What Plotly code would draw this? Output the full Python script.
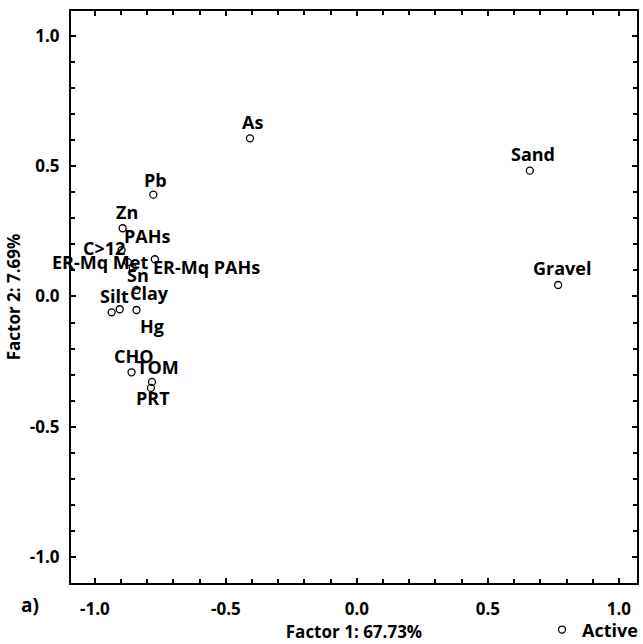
import plotly.graph_objects as go

# Factor loadings (Factor 1, Factor 2) for each active variable
variables = ["As", "Sand", "Gravel", "Pb", "Zn", "PAHs", "C>12", "ER-Mq Met",
             "Sn", "ER-Mq PAHs", "Clay", "Silt", "Hg", "CHO", "TOM", "PRT"]
factor1 = [-0.408, 0.660, 0.768, -0.777, -0.894, -0.874, -0.898, -0.936,
           -0.855, -0.771, -0.841, -0.905, -0.841, -0.860, -0.782, -0.786]
factor2 = [0.607, 0.483, 0.044, 0.391, 0.262, 0.132, 0.178, -0.061,
           0.109, 0.143, 0.025, -0.049, -0.052, -0.291, -0.328, -0.351]

# label placement relative to each point (pixels: right, up)
label_dx = [3, 3, 4, 2, 4, 19, -18, -12, 5, 52, 13, -5, 15, 2, 6, 2]
label_dy = [16, 17, 17, 15, 16, 26, 2, 50, -7, -8, -3, 13, -16, 16, 15, -10]

tick_vals = [-1.0, -0.5, 0.0, 0.5, 1.0]
tick_text = ["-1.0", "-0.5", "0.0", "0.5", "1.0"]

FONT = "Open Sans"
font_bold = dict(family=FONT, size=17, color="black", weight="bold")
label_font = dict(family=FONT, size=18, color="black", weight="bold")

fig = go.Figure()
fig.add_trace(go.Scatter(
    x=factor1, y=factor2, mode="markers", name="Active",
    marker=dict(symbol="circle-open", size=7, color="black",
                line=dict(width=1.3, color="black")),
))

for name, fx, fy, dx, dy in zip(variables, factor1, factor2, label_dx, label_dy):
    fig.add_annotation(x=fx, y=fy, text=name, showarrow=False,
                       xshift=dx, yshift=dy, xanchor="center", yanchor="middle",
                       font=label_font)

fig.add_annotation(x=-0.072, y=-0.038, xref="paper", yref="paper",
                   text="a)", showarrow=False, xanchor="center", yanchor="middle",
                   font=dict(family=FONT, size=19, color="black", weight="bold"))

axis_common = dict(
    showgrid=False, zeroline=False, showline=True, linecolor="black",
    linewidth=2, mirror="allticks", ticks="inside", ticklen=5, tickwidth=1.5,
    tickcolor="black", tickvals=tick_vals, ticktext=tick_text,
    tickfont=font_bold, automargin=False,
    minor=dict(dtick=0.1, ticks="inside", ticklen=4, tickwidth=1.5, tickcolor="black"),
)

fig.update_xaxes(range=[-1.091, 1.069], ticklabelstandoff=10,
                 title=dict(text="Factor 1: 67.73%", font=font_bold, standoff=4),
                 **axis_common)
fig.update_yaxes(range=[-1.1, 1.096], ticklabelstandoff=6,
                 title=dict(text="Factor 2: 7.69%", font=font_bold, standoff=5),
                 **axis_common)

fig.update_layout(
    width=643, height=644,
    margin=dict(l=71, r=6, t=11, b=61, autoexpand=False),
    plot_bgcolor="white", paper_bgcolor="white",
    showlegend=True,
    legend=dict(xref="container", yref="container", x=1.0, xanchor="right",
                y=0.022, yanchor="middle",
                font=dict(family=FONT, size=18, color="black", weight="bold"),
                bgcolor="rgba(0,0,0,0)", itemwidth=30, borderwidth=0),
)

fig.write_html("out.html")
